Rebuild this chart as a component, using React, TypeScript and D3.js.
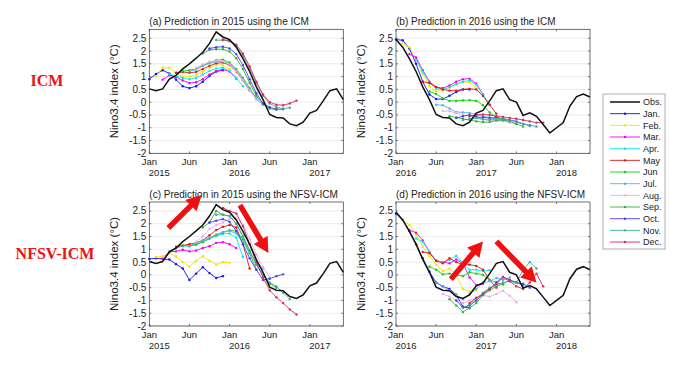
import React from 'react';
import * as d3 from 'd3';

// observed Nino3.4 index, Jan 2015 .. Jun 2018
const obs = [
  0.52, 0.45, 0.52, 0.9, 1.05, 1.3, 1.5, 1.72, 1.95, 2.3, 2.75, 2.55,
  2.45, 2.15, 1.7, 1.2, 0.6, 0.1, -0.48, -0.6, -0.62, -0.85, -0.92, -0.78,
  -0.43, -0.32, 0.05, 0.45, 0.52, 0.1, 0.0, -0.52, -0.42, -0.55, -0.87, -1.2,
  -1.0, -0.8, -0.15, 0.22, 0.32, 0.2,
];

const monthTicks = [0, 6, 12, 18, 24];
const monthLabels = ['Jan', 'Jun', 'Jan', 'Jun', 'Jan'];
const yTicks = [-2, -1.5, -1, -0.5, 0, 0.5, 1, 1.5, 2, 2.5];
const yTickLabels = ['-2', '-1.5', '-1', '-0.5', '0', '0.5', '1', '1.5', '2', '2.5'];
const years2015 = ['2015', '2016', '2017'];
const years2016 = ['2016', '2017', '2018'];

const initMonths = ['Jan.', 'Feb.', 'Mar.', 'Apr.', 'May', 'Jun', 'Jul.', 'Aug.', 'Sep.', 'Oct.', 'Nov.', 'Dec.'];
const initColors = [
  '#1010f0', '#f2e600', '#f000f0', '#00e8f0', '#e01818', '#10d010',
  '#5ab0e8', '#e8aee8', '#3aae3a', '#4a40f0', '#3eb08e', '#d82a5e',
];

// forecasts, one row per initial month (row i starts at month i)
const icm2015 = [
  [0.9, 1.1, 1.25, 1.12, 0.88, 0.62, 0.55, 0.62, 0.8, 1.02, 1.2, 1.25],
  [1.0, 1.35, 1.35, 1.12, 1.0, 1.0, 1.05, 1.2, 1.35, 1.45, 1.45, 1.3],
  [0.88, 1.05, 0.98, 0.85, 0.75, 0.78, 0.9, 1.08, 1.22, 1.28, 1.2, 0.92],
  [1.1, 1.02, 0.95, 0.9, 0.95, 1.08, 1.22, 1.32, 1.35, 1.22, 0.95, 0.62],
  [1.15, 1.18, 1.15, 1.18, 1.3, 1.42, 1.52, 1.55, 1.45, 1.2, 0.85, 0.45],
  [1.22, 1.25, 1.3, 1.42, 1.55, 1.64, 1.66, 1.55, 1.3, 0.95, 0.55, 0.12],
  [1.2, 1.28, 1.42, 1.52, 1.58, 1.6, 1.5, 1.25, 0.9, 0.5, 0.15, -0.1],
  [1.35, 1.48, 1.58, 1.62, 1.6, 1.48, 1.22, 0.85, 0.45, 0.1, -0.1, -0.2],
  [1.9, 2.05, 2.07, 2.07, 1.98, 1.72, 1.3, 0.75, 0.25, -0.08, -0.25, -0.3],
  [2.1, 2.15, 2.17, 2.1, 1.88, 1.45, 0.9, 0.35, -0.05, -0.2, -0.27, -0.28],
  [2.43, 2.42, 2.38, 2.2, 1.82, 1.3, 0.75, 0.25, -0.05, -0.2, -0.25, -0.22],
  [2.45, 2.4, 2.25, 1.9, 1.4, 0.8, 0.3, 0.0, -0.1, -0.12, -0.05, 0.06],
];

const icm2016 = [
  [2.45, 2.42, 2.1, 1.5, 0.8, 0.3, 0.12, 0.12, 0.25, 0.4, 0.5, 0.5],
  [2.3, 2.15, 1.7, 1.1, 0.62, 0.42, 0.45, 0.58, 0.72, 0.8, 0.78, 0.55],
  [1.88, 1.75, 1.25, 0.8, 0.58, 0.55, 0.65, 0.8, 0.9, 0.92, 0.72, 0.3],
  [1.65, 1.2, 0.75, 0.52, 0.5, 0.58, 0.7, 0.8, 0.85, 0.68, 0.3, -0.1],
  [0.8, 0.75, 0.6, 0.5, 0.45, 0.45, 0.5, 0.52, 0.5, 0.25, -0.1, -0.45],
  [0.42, 0.32, 0.15, 0.05, 0.05, 0.07, 0.08, 0.05, -0.12, -0.4, -0.6, -0.7],
  [-0.1, -0.12, -0.25, -0.38, -0.4, -0.42, -0.48, -0.55, -0.6, -0.65, -0.7, -0.75],
  [-0.35, -0.35, -0.42, -0.5, -0.55, -0.6, -0.65, -0.7, -0.72, -0.75, -0.8, -0.85],
  [-0.55, -0.6, -0.65, -0.7, -0.75, -0.78, -0.78, -0.72, -0.7, -0.75, -0.85, -0.95],
  [-0.62, -0.55, -0.5, -0.58, -0.6, -0.62, -0.6, -0.65, -0.7, -0.75, -0.85, -0.92],
  [-0.7, -0.65, -0.62, -0.68, -0.7, -0.66, -0.65, -0.7, -0.78, -0.85, -0.9, -0.95],
  [-0.55, -0.5, -0.48, -0.5, -0.55, -0.58, -0.62, -0.65, -0.7, -0.75, -0.8, -0.8],
];

const nfsv2015 = [
  [0.62, 0.65, 0.62, 0.6, 0.42, 0.25, -0.2, 0.05, 0.3, 0.07, -0.12, -0.05],
  [0.7, 0.72, 0.85, 0.72, 0.5, 0.33, 0.55, 0.73, 0.55, 0.4, 0.5, 0.48],
  [0.62, 0.9, 0.92, 0.98, 0.92, 0.95, 1.05, 1.12, 1.25, 1.28, 1.2, 1.05],
  [0.92, 1.05, 1.12, 1.15, 1.2, 1.3, 1.42, 1.52, 1.6, 1.62, 1.45, 0.7],
  [1.1, 1.15, 1.2, 1.25, 1.35, 1.55, 1.75, 1.88, 1.95, 1.85, 1.2, 0.25],
  [1.15, 1.12, 1.18, 1.28, 1.42, 1.55, 1.65, 1.75, 1.7, 1.4, 0.85, 0.2],
  [1.12, 1.25, 1.35, 1.45, 1.58, 1.68, 1.72, 1.62, 1.3, 0.85, 0.5, 0.25],
  [1.3, 1.5, 1.8, 1.95, 2.05, 2.2, 2.2, 1.95, 1.4, 0.8, 0.3, -0.1],
  [1.85, 2.05, 2.5, 2.35, 2.3, 2.0, 1.5, 0.95, 0.4, 0.0, -0.35, -0.5],
  [2.05, 2.12, 2.18, 2.08, 1.72, 1.2, 0.65, 0.2, -0.2, -0.15, -0.05, 0.02],
  [2.35, 2.35, 2.3, 2.0, 1.5, 0.95, 0.4, 0.0, -0.3, -0.45, -0.7, -0.95],
  [2.62, 2.5, 2.4, 1.9, 1.2, 0.5, -0.1, -0.6, -0.88, -1.1, -1.35, -1.55],
];

const nfsv2016 = [
  [2.4, 2.15, 1.72, 1.2, 0.65, 0.12, -0.3, -0.45, -0.55, -0.78, -1.25, -1.3],
  [2.15, 1.95, 1.57, 1.1, 0.73, 0.4, 0.15, 0.24, 0.0, -0.55, -0.65, -0.6],
  [1.75, 1.65, 1.35, 0.9, 0.55, 0.5, 0.45, 0.6, 0.45, -0.1, -0.4, -0.35],
  [1.42, 1.3, 0.9, 0.55, 0.5, 0.58, 0.75, 0.45, 0.2, 0.2, 0.15, 0.18],
  [0.9, 0.85, 0.55, 0.45, 0.65, 0.5, 0.4, 0.4, 0.35, 0.2, -0.2, -0.5],
  [0.32, 0.2, 0.02, 0.05, 0.0, -0.05, 0.1, 0.05, 0.0, -0.2, -0.3, -0.38],
  [-0.3, -0.45, -0.6, -0.8, -0.95, -0.75, -0.55, -0.32, -0.25, -0.12, -0.2, -0.1],
  [-0.75, -0.85, -1.0, -1.1, -1.0, -0.88, -0.8, -0.85, -0.75, -0.62, -0.82, -1.07],
  [-0.95, -1.2, -1.45, -1.3, -1.1, -0.8, -0.6, -0.45, -0.35, -0.2, -0.3, -0.42],
  [-1.0, -1.28, -1.2, -1.0, -0.75, -0.55, -0.3, -0.08, -0.2, -0.3, -0.35, -0.5],
  [-1.3, -1.15, -0.95, -0.7, -0.5, -0.4, -0.3, -0.25, -0.32, 0.2, 0.5, 0.25],
  [-1.1, -0.9, -0.75, -0.55, -0.35, -0.1, -0.25, -0.45, -0.55, -0.3, 0.05, -0.45],
];

// red arrows, in (month, index) units of their panel
const arrowsC = [
  { from: [2.84, 1.83], to: [7.82, 3.12] },
  { from: [13.55, 2.73], to: [17.8, 0.86] },
];
const arrowsD = [
  { from: [8.2, -0.17], to: [13.0, 1.31] },
  { from: [15.0, 1.31], to: [21.0, -0.3] },
];

const FONT = "'Liberation Sans', Arial, Helvetica, sans-serif";
const PW = 194;
const PH = 124;

const panels = [
  { title: '(a) Prediction in 2015 using the ICM', left: 149.3, top: 29.3, fc: icm2015, obsStart: 0, years: years2015, arrows: [] },
  { title: '(b) Prediction in 2016 using the ICM', left: 396, top: 29.3, fc: icm2016, obsStart: 12, years: years2016, arrows: [] },
  { title: '(c) Prediction in 2015 using the NFSV-ICM', left: 149.3, top: 202, fc: nfsv2015, obsStart: 0, years: years2015, arrows: arrowsC },
  { title: '(d) Prediction in 2016 using the NFSV-ICM', left: 396, top: 202, fc: nfsv2016, obsStart: 12, years: years2016, arrows: arrowsD },
];

function arrowPath(x1: number, y1: number, x2: number, y2: number) {
  const shaft = 5.5, headW = 16, headL = 15;
  const dx = x2 - x1, dy = y2 - y1;
  const len = Math.hypot(dx, dy);
  const ux = dx / len, uy = dy / len;
  const px = -uy, py = ux;
  const bx = x2 - ux * headL, by = y2 - uy * headL;
  const pts = [
    [x1 + px * shaft / 2, y1 + py * shaft / 2],
    [bx + px * shaft / 2, by + py * shaft / 2],
    [bx + px * headW / 2, by + py * headW / 2],
    [x2, y2],
    [bx - px * headW / 2, by - py * headW / 2],
    [bx - px * shaft / 2, by - py * shaft / 2],
    [x1 - px * shaft / 2, y1 - py * shaft / 2],
  ];
  return 'M' + pts.map(p => p[0].toFixed(1) + ',' + p[1].toFixed(1)).join('L') + 'Z';
}

function Panel({ p }: { p: any }) {
  const x = d3.scaleLinear().domain([0, 29]).range([p.left, p.left + PW]);
  const y = d3.scaleLinear().domain([-2, 2.85]).range([p.top + PH, p.top]);
  const line = d3.line<[number, number]>().x(d => x(d[0])).y(d => y(d[1]));
  const obsPts: [number, number][] = obs.slice(p.obsStart, p.obsStart + 30).map((v, i) => [i, v]);
  const bottom = p.top + PH;
  const right = p.left + PW;

  return (
    <g>
      {yTicks.map(t => (
        <line key={'g' + t} x1={p.left} x2={right} y1={y(t)} y2={y(t)} stroke="#e3e3e3" strokeWidth={0.7} />
      ))}
      <text x={p.left} y={p.top - 4} fontSize={10} fontFamily={FONT} fill="#222">{p.title}</text>
      {p.fc.map((vals: number[], i: number) => {
        const pts: [number, number][] = vals.map((v, j) => [i + j, v]);
        return (
          <g key={i}>
            <path d={line(pts) || ''} fill="none" stroke={initColors[i]} strokeWidth={0.9} />
            {pts.map((d, j) => (
              <circle key={j} cx={x(d[0])} cy={y(d[1])} r={1.2} fill={initColors[i]} />
            ))}
          </g>
        );
      })}
      <path d={line(obsPts) || ''} fill="none" stroke="#111" strokeWidth={1.5} />
      <rect x={p.left} y={p.top} width={PW} height={PH} fill="none" stroke="#333" strokeWidth={0.7} />
      {yTicks.map((t, i) => (
        <g key={'y' + t}>
          <line x1={p.left} x2={p.left + 2} y1={y(t)} y2={y(t)} stroke="#333" strokeWidth={0.6} />
          <line x1={right - 2} x2={right} y1={y(t)} y2={y(t)} stroke="#333" strokeWidth={0.6} />
          <text x={p.left - 3} y={y(t) + 3.5} textAnchor="end" fontSize={10} fontFamily={FONT} fill="#222">{yTickLabels[i]}</text>
        </g>
      ))}
      {monthTicks.map((t, i) => (
        <g key={'x' + t}>
          <line x1={x(t)} x2={x(t)} y1={bottom} y2={bottom - 2} stroke="#333" strokeWidth={0.6} />
          <line x1={x(t)} x2={x(t)} y1={p.top} y2={p.top + 2} stroke="#333" strokeWidth={0.6} />
          <text x={x(t)} y={bottom + 12} textAnchor="middle" fontSize={9.5} fontFamily={FONT} fill="#222">{monthLabels[i]}</text>
        </g>
      ))}
      {p.years.map((yr: string, i: number) => (
        <text key={yr} x={x(i * 12) + 10} y={bottom + 22.5} textAnchor="middle" fontSize={9.5} fontFamily={FONT} fill="#222">{yr}</text>
      ))}
      <text
        transform={`translate(${p.left - 31},${p.top + PH / 2}) rotate(-90)`}
        textAnchor="middle" fontSize={11.5} fontFamily={FONT} fill="#222"
      >Nino3.4 index (°C)</text>
      {p.arrows.map((a: any, i: number) => (
        <path key={'a' + i} d={arrowPath(x(a.from[0]), y(a.from[1]), x(a.to[0]), y(a.to[1]))} fill="#f01010" />
      ))}
    </g>
  );
}

function Legend() {
  const lx = 603, ly = 94, step = 11.67;
  const names = ['Obs.', ...initMonths];
  const colors = ['#111', ...initColors];
  return (
    <g>
      <rect x={lx} y={ly} width={62} height={155} fill="#fff" stroke="#9a9a9a" strokeWidth={0.8} />
      {names.map((n, i) => {
        const yy = ly + 8 + i * step;
        return (
          <g key={n}>
            <line x1={610} x2={640} y1={yy} y2={yy} stroke={colors[i]} strokeWidth={i === 0 ? 1.5 : 0.9} />
            {i > 0 && <circle cx={625} cy={yy} r={1.2} fill={colors[i]} />}
            <text x={643} y={yy + 3.2} fontSize={9} fontFamily={FONT} fill="#222">{n}</text>
          </g>
        );
      })}
    </g>
  );
}

export default function App() {
  return (
    <svg width={700} height={370} style={{ position: 'absolute', left: 0, top: 0, background: '#fff' }}>
      <rect x={0} y={0} width={700} height={370} fill="#fff" />
      <text x={47} y={86} textAnchor="middle" fontSize={16} fontWeight="bold" fontFamily="'Liberation Serif', 'Times New Roman', serif" fill="#ee1111">ICM</text>
      <text x={55} y={259} textAnchor="middle" fontSize={16} fontWeight="bold" fontFamily="'Liberation Serif', 'Times New Roman', serif" fill="#ee1111">NFSV-ICM</text>
      {panels.map(p => <Panel key={p.title} p={p} />)}
      <Legend />
    </svg>
  );
}
